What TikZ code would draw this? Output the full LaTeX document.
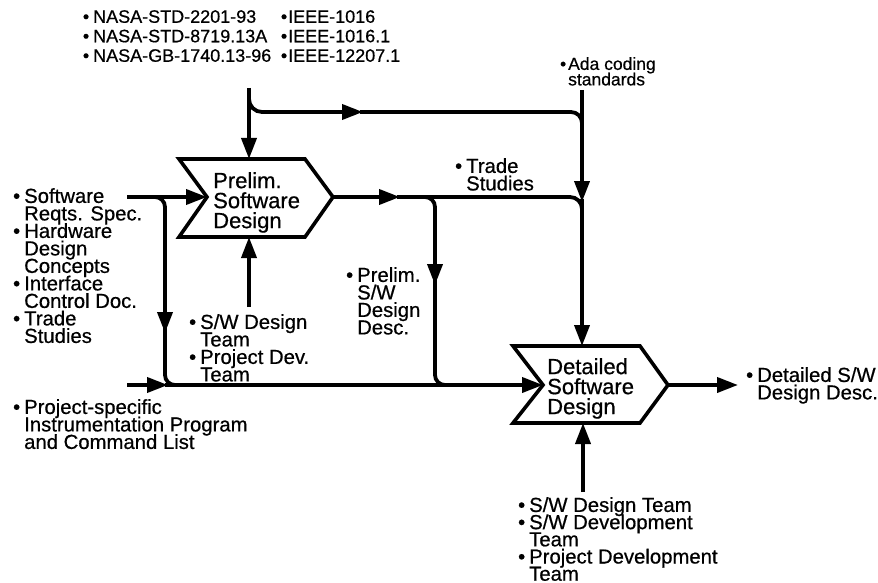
\documentclass[tikz,border=0pt]{standalone}
\usepackage{fontspec}
\usepackage{graphicx}
\setmainfont{Liberation Sans}[FakeBold=0.6]
\usetikzlibrary{arrows.meta}
\AtBeginDocument{\lineskiplimit=-100pt\relax\lineskip=0pt\relax}
\newcommand{\bul}{\llap{•\hspace{4pt}}}
\newcommand{\bulx}{\llap{•\hspace{1pt}}}
\tikzset{
  flow/.style={line width=3.8pt},
  tip/.style={-{Triangle[length=21pt,width=15pt]}},
  lbl/.style={anchor=north west, inner sep=0pt, align=left,
    font=\fontsize{20.3}{17.5}\selectfont},
  toplbl/.style={anchor=north west, inner sep=0pt, align=left,
    font=\fontsize{18}{19.5}\selectfont},
  adalbl/.style={anchor=north west, inner sep=0pt, align=left,
    font=\fontsize{17.5}{15.5}\selectfont},
  boxtxt/.style={anchor=north west, inner sep=0pt, align=left,
    font=\fontsize{22}{20}\selectfont},
  procbox/.style={draw, line width=3.6pt, line join=miter},
}
\begin{document}
\begin{tikzpicture}[x=1pt,y=-1pt]
\useasboundingbox (0,0) rectangle (878,583);

% process boxes
\draw[procbox] (179,159) -- (305,159) -- (333,197) -- (305,237) -- (179,237) -- (207,197) -- cycle;
\draw[procbox] (513,346) -- (640,346) -- (668,385) -- (640,423) -- (513,423) -- (543,385) -- cycle;
\node[boxtxt] (prelim) at (213,172) {Prelim.\\Software\\Design};
\node[boxtxt] (detail) at (547,358) {Detailed\\Software\\Design};

% anchor coordinates
\coordinate (prelimN) at (249,159);
\coordinate (prelimS) at (249,237);
\coordinate (prelimW) at (207,197);
\coordinate (prelimE) at (333,197);
\coordinate (detailN) at (582,346);
\coordinate (detailS) at (583,423);
\coordinate (detailW) at (543,385);
\coordinate (detailE) at (668,385);

% labels
\node[toplbl] (nasa) at (93,10) {\bul NASA-STD-2201-93\\\bul NASA-STD-8719.13A\\\bul NASA-GB-1740.13-96};
\node[toplbl] (ieee) at (288,10) {\bulx IEEE-1016\\\bulx IEEE-1016.1\\\bulx IEEE-12207.1};
\node[adalbl] (ada) at (568,57) {\llap{•\hspace{2pt}}Ada coding\\standards};
\node[lbl] (trade) at (466,158) {\bul Trade\\Studies};
\node[lbl] (psdd) at (357,267) {\bul Prelim.\\S/W\\Design\\Desc.};
\node[lbl] (inputs) at (24,188) {\bul Software\\Reqts. Spec.\\\bul Hardware\\Design\\Concepts\\\bul Interface\\Control Doc.\\\bul Trade\\Studies};
\node[lbl] (proj) at (24,399) {\bul Project-specific\\Instrumentation Program\\and Command List};
\node[lbl] (team1) at (200,314) {\bul S/W Design\\Team\\\bul Project Dev.\\Team};
\node[lbl,font=\fontsize{20.3}{17.2}\selectfont] (team2) at (529,497) {\bul S/W Design Team\\\bul S/W Development\\Team\\\bul Project Development\\Team};
\node[lbl] (dsdd) at (757,367) {\bul Detailed S/W\\Design Desc.};

% free ends
\coordinate (stdIn) at (249,88);
\coordinate (adaIn) at (582,90);
\coordinate (swIn) at (127,197);
\coordinate (projIn) at (127,385);
\coordinate (team1Out) at (249,307);
\coordinate (team2Out) at (583,492);
\coordinate (dsddIn) at (738,385);

% connectors
\draw[flow,tip] (stdIn) -- (prelimN);
\draw[flow,tip,rounded corners=13pt] (249,99) -- (249,112) -- (363,112);
\draw[flow,rounded corners=11pt] (360,112) -- (582,112) -- (582,140);

\draw[flow,tip] (adaIn) -- (582,202);
\draw[flow,tip] (582,199) -- (detailN);

\draw[flow,tip] (prelimE) -- (400,197);
\draw[flow,rounded corners=12pt] (397,197) -- (582,197) -- (582,225);
\draw[flow,tip,rounded corners=10pt] (423,197) -- (435,197) -- (435,285);
\draw[flow,rounded corners=10pt] (435,280) -- (435,385) -- (460,385);

\draw[flow,tip] (swIn) -- (prelimW);
\draw[flow,tip,rounded corners=10pt] (155,197) -- (165,197) -- (165,333);
\draw[flow,rounded corners=10pt] (165,328) -- (165,385) -- (185,385);

\draw[flow,tip] (projIn) -- (168,385);
\draw[flow,tip] (165,385) -- (detailW);

\draw[flow,tip] (team1Out) -- (prelimS);
\draw[flow,tip] (team2Out) -- (detailS);
\draw[flow,tip] (detailE) -- (dsddIn);
\end{tikzpicture}
\end{document}
